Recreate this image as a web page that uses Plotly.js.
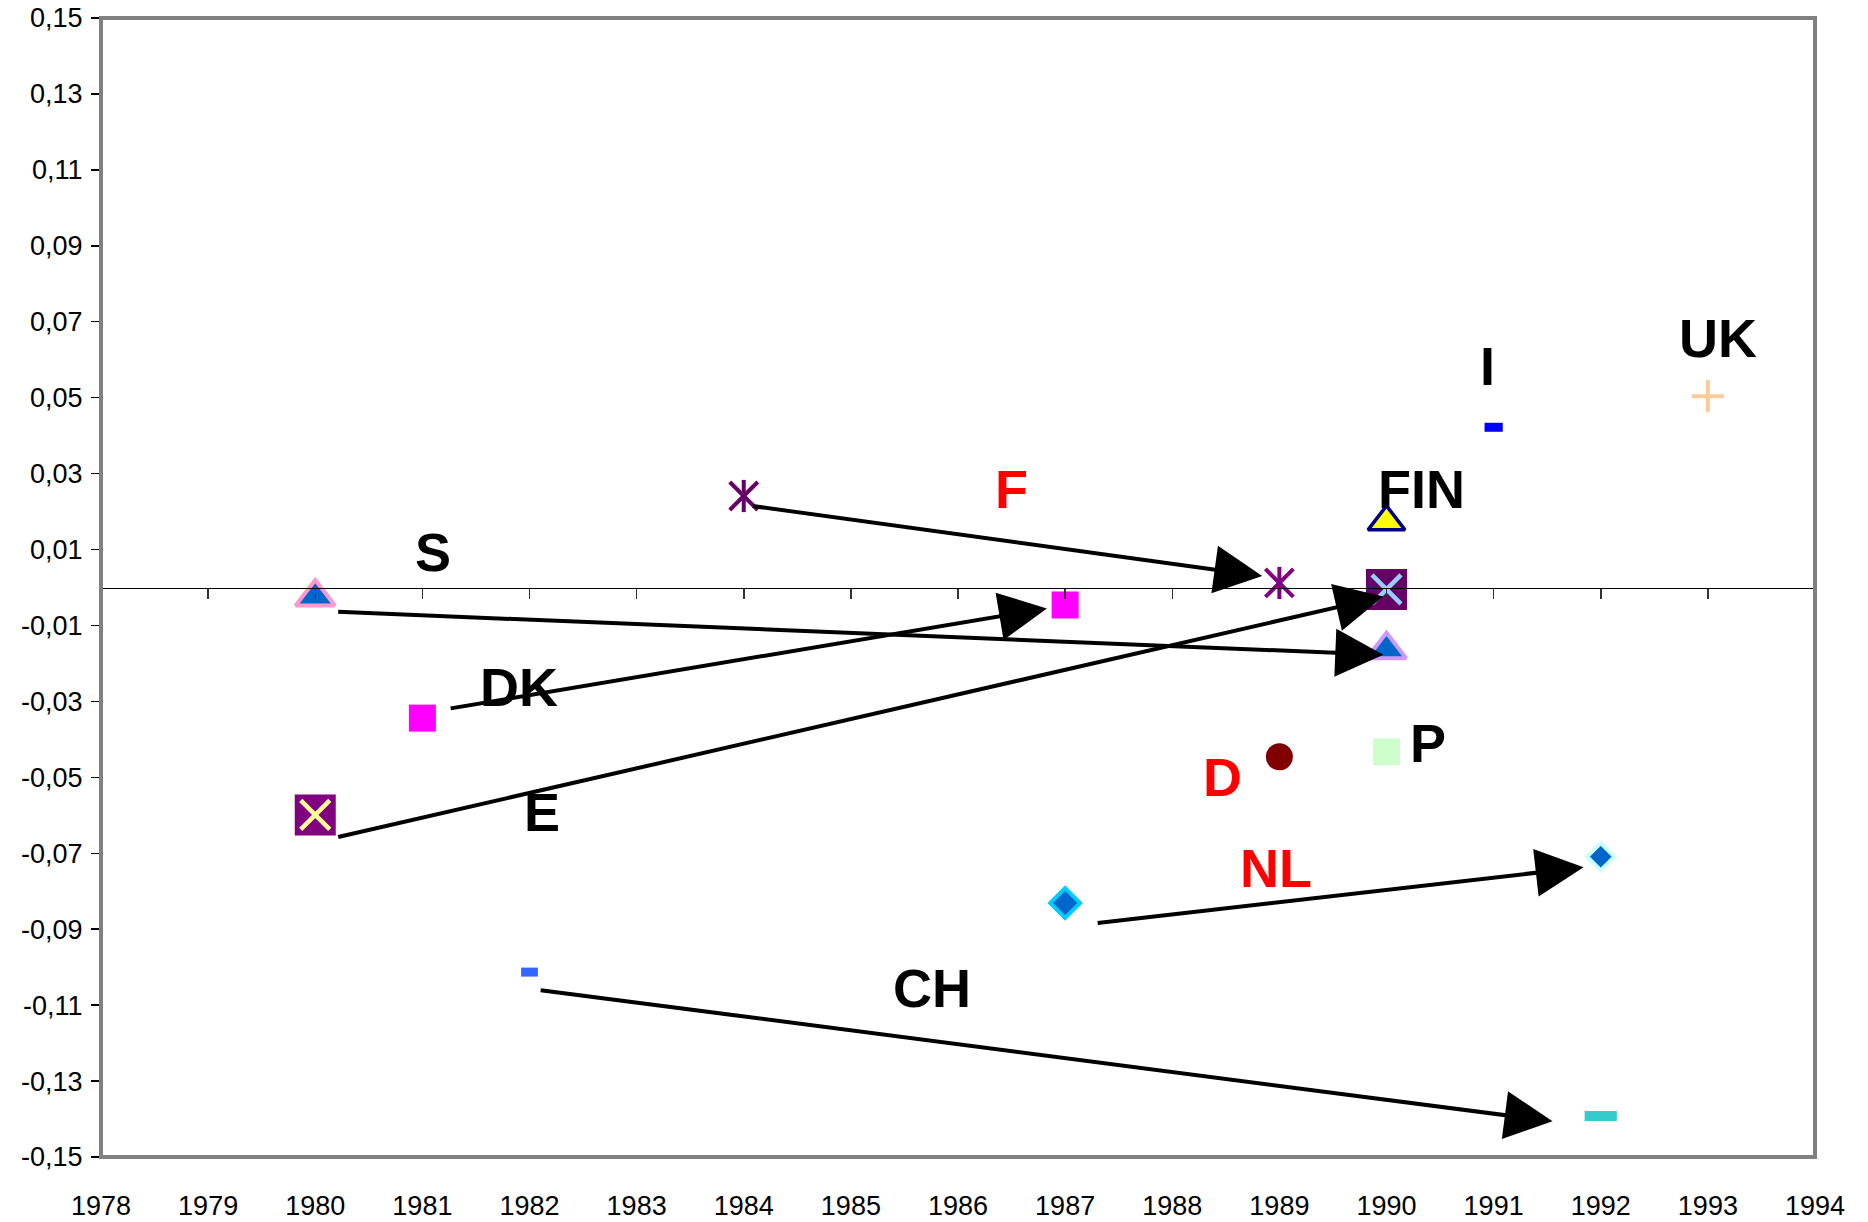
<!DOCTYPE html>
<html>
<head>
<meta charset="utf-8">
<script src="https://cdn.plot.ly/plotly-3.0.1.min.js"></script>
<style>
  html, body { margin: 0; padding: 0; background: #ffffff; }
  #chart { width: 1868px; height: 1222px; }
</style>
</head>
<body>
<div id="chart"></div>
<script>
// ---------------- DATA ----------------
const xTickYears = [1978,1979,1980,1981,1982,1983,1984,1985,1986,1987,1988,1989,1990,1991,1992,1993,1994];
const xTickLabels = ['1978','1979','1980','1981','1982','1983','1984','1985','1986','1987','1988','1989','1990','1991','1992','1993','1994'];
const yTickValues = [0.15,0.13,0.11,0.09,0.07,0.05,0.03,0.01,-0.01,-0.03,-0.05,-0.07,-0.09,-0.11,-0.13,-0.15];
const yTickLabels = ['0,15','0,13','0,11','0,09','0,07','0,05','0,03','0,01','-0,01','-0,03','-0,05','-0,07','-0,09','-0,11','-0,13','-0,15'];

// points (country / year)
const pointNames  = ['S 1980','S 1990','F 1984','F 1989','DK 1981','DK 1987','E 1980','E 1990','NL 1987','NL 1992','CH 1982','CH 1992','FIN 1990','I 1991','UK 1993','D 1989','P 1990'];
const pointYears  = [1980, 1990, 1984, 1989, 1981, 1987, 1980, 1990, 1987, 1992, 1982, 1992, 1990, 1991, 1993, 1989, 1990];
const pointValues = [-0.0025, -0.0164, 0.0241, 0.0012, -0.0344, -0.0046, -0.0599, -0.0005, -0.0831, -0.0709, -0.1013, -0.1392, 0.0173, 0.0422, 0.0504, -0.0446, -0.0433];

// country labels
const labelTexts  = ['S','F','FIN','I','UK','DK','E','D','P','NL','CH'];
const labelYears  = [1981.1, 1986.5, 1990.33, 1990.94, 1993.09, 1981.9, 1982.12, 1988.47, 1990.39, 1988.97, 1985.76];
const labelValues = [0.0093, 0.0259, 0.0259, 0.0583, 0.0658, -0.0262, -0.0592, -0.0498, -0.041, -0.074, -0.1054];
const labelRed    = [false, true, false, false, false, false, false, true, false, true, false];

// arrows (movement between years)
const arrowFromYear  = [1984.07, 1980.2, 1981.25, 1980.2, 1987.29, 1982.09];
const arrowFromValue = [0.0215, -0.0064, -0.0319, -0.0658, -0.0884, -0.106];
const arrowToYear    = [1988.84, 1989.97, 1986.83, 1989.97, 1991.84, 1991.55];
const arrowToValue   = [0.003, -0.0177, -0.0055, -0.0024, -0.0737, -0.1406];

// ---------------- STYLES ----------------
// each entry: list of marker layers drawn on top of each other
const pointStyles = [
  [{symbol:'triangle-up', size:34, color:'#0066cc', line:{color:'#ff99cc', width:4}}],
  [{symbol:'triangle-up', size:34, color:'#0066cc', line:{color:'#cc99ff', width:4}}],
  [{symbol:'x-thin-open', size:28, color:'#660066', line:{color:'#660066', width:4}},
   {symbol:'line-ns-open', size:23, color:'#660066', line:{color:'#660066', width:4}}],
  [{symbol:'x-thin-open', size:28, color:'#800080', line:{color:'#800080', width:4}},
   {symbol:'line-ns-open', size:23, color:'#800080', line:{color:'#800080', width:4}}],
  [{symbol:'square', size:27, color:'#ff00ff', line:{width:0}}],
  [{symbol:'square', size:27, color:'#ff00ff', line:{width:0}}],
  [{symbol:'square', size:41, color:'#800080', line:{width:0}},
   {symbol:'x-thin-open', size:29, color:'#ffff99', line:{color:'#ffff99', width:4.5}}],
  [{symbol:'square', size:41, color:'#660066', line:{width:0}},
   {symbol:'x-thin-open', size:29, color:'#99ccff', line:{color:'#99ccff', width:4.5}}],
  [{symbol:'diamond', size:23, color:'#0066cc', line:{color:'#00ccff', width:4}}],
  [{symbol:'diamond', size:21, color:'#0066cc', line:{color:'#ccffff', width:4}}],
  [{symbol:'line-ew-open', size:12, color:'#3366ff', line:{color:'#3366ff', width:9}}],
  [{symbol:'line-ew-open', size:23, color:'#33cccc', line:{color:'#33cccc', width:10}}],
  [{symbol:'triangle-up', size:32, color:'#ffff00', line:{color:'#000080', width:3.5}}],
  [{symbol:'line-ew-open', size:13, color:'#0000ff', line:{color:'#0000ff', width:9}}],
  [{symbol:'cross-thin-open', size:23, color:'#ffcc99', line:{color:'#ffcc99', width:4}}],
  [{symbol:'circle', size:27, color:'#800000', line:{width:0}}],
  [{symbol:'square', size:27, color:'#ccffcc', line:{width:0}}]
];

const traces = [];
// invisible trace to carry the zero-crossing axis
traces.push({
  x: [xTickYears[0], xTickYears[xTickYears.length-1]], y: [0, 0],
  xaxis: 'x2', yaxis: 'y', mode: 'lines', line: {color: 'rgba(0,0,0,0)', width: 0},
  hoverinfo: 'skip', showlegend: false
});
for (let i = 0; i < pointYears.length; i++) {
  pointStyles[i].forEach(function (m) {
    traces.push({
      x: [pointYears[i]], y: [pointValues[i]], name: pointNames[i],
      type: 'scatter', mode: 'markers', showlegend: false,
      marker: {symbol: m.symbol, size: m.size, color: m.color, line: m.line}
    });
  });
}

const annotations = [];
for (let i = 0; i < arrowFromYear.length; i++) {
  annotations.push({
    x: arrowToYear[i], y: arrowToValue[i], xref: 'x', yref: 'y',
    ax: arrowFromYear[i], ay: arrowFromValue[i], axref: 'x', ayref: 'y',
    text: '', showarrow: true, arrowhead: 2, arrowsize: 2.4, arrowwidth: 4,
    arrowcolor: '#000000', standoff: 0, startstandoff: 0
  });
}
const labelFont = 'Liberation Sans Narrow, Arial Narrow, Liberation Sans, Arial, sans-serif';
for (let i = 0; i < labelTexts.length; i++) {
  annotations.push({
    x: labelYears[i], y: labelValues[i], xref: 'x', yref: 'y',
    text: labelTexts[i], showarrow: false, xanchor: 'center', yanchor: 'middle',
    font: {family: labelFont, size: 54, weight: 'bold', color: labelRed[i] ? '#ff0000' : '#000000'}
  });
}

const tickFont = {family: 'Liberation Sans, Arial, sans-serif', size: 27, color: '#000000'};

const layout = {
  width: 1868, height: 1222,
  margin: {l: 101, r: 53, t: 18, b: 65, pad: 0},
  paper_bgcolor: '#ffffff', plot_bgcolor: '#ffffff',
  showlegend: false,
  xaxis: {
    range: [1978, 1994], tickmode: 'array', tickvals: xTickYears, ticktext: xTickLabels,
    showgrid: false, zeroline: false, showline: false, ticks: '',
    ticklabelstandoff: 30, tickfont: tickFont, fixedrange: true
  },
  xaxis2: {
    range: [1978, 1994], overlaying: 'x', anchor: 'free', position: 0.5, side: 'bottom',
    tickmode: 'array', tickvals: xTickYears, showticklabels: false,
    showgrid: false, zeroline: false, showline: true, linecolor: '#000000', linewidth: 1.5,
    ticks: 'outside', ticklen: 10, tickwidth: 1.5, tickcolor: '#333333', fixedrange: true
  },
  yaxis: {
    range: [-0.15, 0.15], tickmode: 'array', tickvals: yTickValues, ticktext: yTickLabels,
    showgrid: false, zeroline: false, showline: false,
    ticks: 'outside', ticklen: 9, tickwidth: 1.5, tickcolor: '#000000',
    ticklabelstandoff: 3, tickfont: tickFont, fixedrange: true
  },
  shapes: [{
    type: 'rect', xref: 'paper', yref: 'paper', x0: 0, x1: 1, y0: 0, y1: 1,
    line: {color: '#808080', width: 4}, fillcolor: 'rgba(0,0,0,0)', layer: 'above'
  }],
  annotations: annotations
};

Plotly.newPlot('chart', traces, layout, {displayModeBar: false, staticPlot: true});
</script>
</body>
</html>
